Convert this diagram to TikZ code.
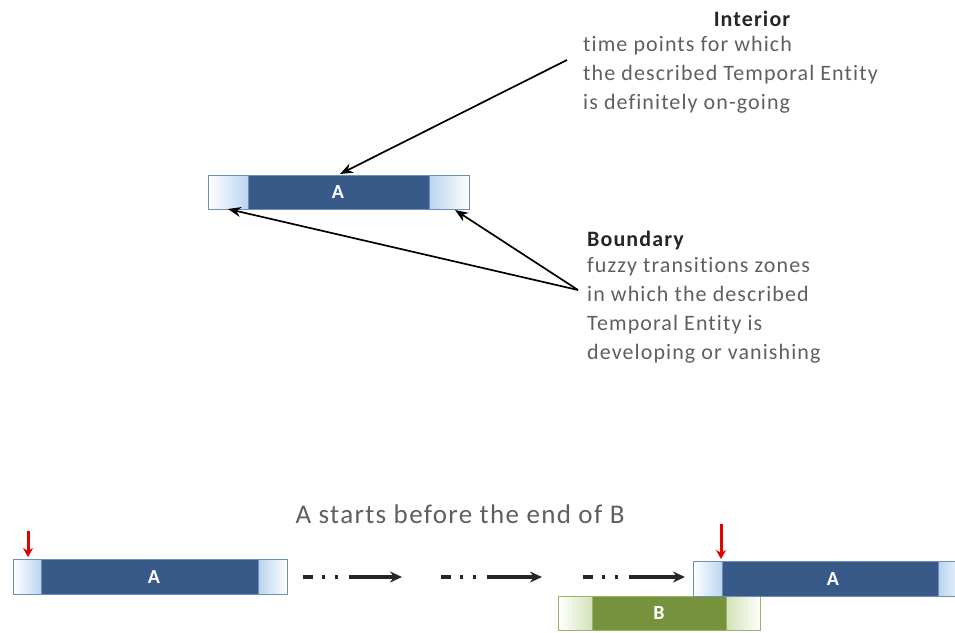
\documentclass[tikz,border=0pt]{standalone}
\usepackage{fontspec}
\setmainfont{Carlito}[Ligatures=NoCommon]
\newfontfamily\spacedfont{Carlito}[LetterSpace=5,Ligatures=NoCommon]
\usetikzlibrary{arrows.meta}
\definecolor{darkbar}{HTML}{385A88}
\definecolor{barline}{HTML}{6F8DB8}
\definecolor{lightblue}{HTML}{B9D5F0}
\definecolor{greenbar}{HTML}{76923C}
\definecolor{greenline}{HTML}{9BB46A}
\definecolor{lightgreen}{HTML}{D3E2B8}
\definecolor{textgrey}{HTML}{5F5F5F}
\definecolor{titlegrey}{HTML}{262626}
\tikzset{
  bluebar/.style={draw=barline, line width=1.4pt, fill=darkbar, inner sep=0pt, anchor=north west},
  greenbarstyle/.style={draw=greenline, line width=1.4pt, fill=greenbar, inner sep=0pt, anchor=north west},
  zoneL/.style={draw=barline, line width=1.1pt, left color=white, right color=lightblue, inner sep=0pt, anchor=north west},
  zoneR/.style={draw=barline, line width=1.1pt, left color=lightblue, right color=white, inner sep=0pt, anchor=north west},
  gzoneL/.style={draw=greenline, line width=1.1pt, left color=white, right color=lightgreen, inner sep=0pt, anchor=north west},
  gzoneR/.style={draw=greenline, line width=1.1pt, left color=lightgreen, right color=white, inner sep=0pt, anchor=north west},
  barlabel/.style={text=white, font=\fontsize{20}{22}\selectfont\bfseries},
  body/.style={text=textgrey, font=\spacedfont\fontsize{22}{29}\selectfont, align=left, anchor=north west, inner sep=0pt},
  title/.style={text=titlegrey, font=\spacedfont\fontsize{22}{24}\selectfont\bfseries, inner sep=0pt},
  pointer/.style={-{Stealth[length=13pt,width=10pt]}, line width=1.7pt, black},
  redmark/.style={-{Stealth[length=9pt,width=10pt]}, line width=3pt, red!90!black},
  flow/.style={-{Stealth[length=12pt,width=11pt]}, line width=3.2pt, black!85,
    dash pattern=on 10pt off 9pt on 3pt off 10pt on 3pt off 11pt on 80pt}
}
\begin{document}
\begin{tikzpicture}[x=1pt,y=-1pt]
\useasboundingbox (0,0) rectangle (955,632);
% top bar A
\node[bluebar, minimum width=261pt, minimum height=34pt] (topA) at (208,175) {};
\node[zoneL, minimum width=40pt, minimum height=34pt] (topAl) at (208,175) {};
\node[zoneR, minimum width=40pt, minimum height=34pt] (topAr) at (429,175) {};
\node[barlabel] (topAlab) at (338,192) {A};
% interior text
\node[title] (inttitle) at (752,19) {Interior};
\node[body] (inttext) at (583,36) {time points for which\\the described Temporal Entity\\is definitely on-going};
% boundary text
\node[title, anchor=west] (bndtitle) at (587,241) {Boundary};
\node[body] (bndtext) at (587,257) {fuzzy transitions zones\\in which the described\\Temporal Entity is\\developing or vanishing};
% pointer arrows
\coordinate (intfrom) at (567,60);
\coordinate (intto) at (340,174);
\coordinate (bndfrom) at (578,290);
\coordinate (bndtoL) at (228,209);
\coordinate (bndtoR) at (455,210);
\draw[pointer] (intfrom) -- (intto);
\draw[pointer] (bndfrom) -- (bndtoL);
\draw[pointer] (bndfrom) -- (bndtoR);
% caption
\node[text=textgrey, font=\spacedfont\fontsize{27}{29}\selectfont] (caption) at (460,514) {A starts before the end of B};
% bottom-left A
\node[bluebar, minimum width=274pt, minimum height=35pt] (blA) at (13,559) {};
\node[zoneL, minimum width=28pt, minimum height=35pt] (blAl) at (13,559) {};
\node[zoneR, minimum width=29pt, minimum height=35pt] (blAr) at (258,559) {};
\node[barlabel] (blAlab) at (154,577) {A};
\coordinate (red1from) at (28,531);
\coordinate (red1to) at (28,557);
\draw[redmark] (red1from) -- (red1to);
% flow arrows
\coordinate (f1a) at (303,577); \coordinate (f1b) at (402,577);
\coordinate (f2a) at (441,577); \coordinate (f2b) at (542,577);
\coordinate (f3a) at (583,577); \coordinate (f3b) at (685,577);
\draw[flow] (f1a) -- (f1b);
\draw[flow] (f2a) -- (f2b);
\draw[flow] (f3a) -- (f3b);
% B bar
\node[greenbarstyle, minimum width=202pt, minimum height=34pt] (B) at (558,596) {};
\node[gzoneL, minimum width=34pt, minimum height=34pt] (Bl) at (558,596) {};
\node[gzoneR, minimum width=34pt, minimum height=34pt] (Br) at (726,596) {};
\node[barlabel] (Blab) at (659,613) {B};
% bottom-right A
\node[bluebar, minimum width=275pt, minimum height=35pt] (brA) at (693,561) {};
\node[zoneL, minimum width=29pt, minimum height=35pt] (brAl) at (693,561) {};
\node[zoneR, minimum width=30pt, minimum height=35pt] (brAr) at (938,561) {};
\node[barlabel] (brAlab) at (833,579) {A};
\coordinate (red2from) at (721,524);
\coordinate (red2to) at (721,559);
\draw[redmark] (red2from) -- (red2to);
\end{tikzpicture}
\end{document}
